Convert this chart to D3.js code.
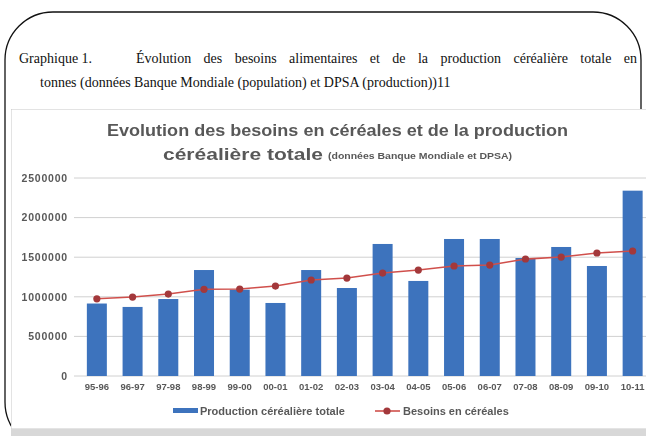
<!DOCTYPE html>
<html><head><meta charset="utf-8">
<script src="https://cdn.jsdelivr.net/npm/d3@7"></script>
<style>body{margin:0;background:#fff}svg{display:block}</style>
</head><body>
<svg id="c" width="646" height="436"></svg>
<script>
const categories = ["95-96","96-97","97-98","98-99","99-00","00-01","01-02","02-03","03-04","04-05","05-06","06-07","07-08","08-09","09-10","10-11"];
const production = [915000,872000,972000,1338000,1090000,922000,1338000,1111000,1667000,1200000,1730000,1730000,1490000,1629000,1389000,2340000];
const besoins = [975000,997000,1035000,1095000,1098000,1136000,1212000,1237000,1300000,1338000,1389000,1401000,1477000,1502000,1553000,1578000];
const yTicks = [0,500000,1000000,1500000,2000000,2500000];
const seriesNames = ["Production céréalière totale","Besoins en céréales"];

const svg = d3.select("#c");
svg.append("rect").attr("x",5).attr("y",12).attr("width",636).attr("height",438)
  .attr("rx",48).attr("ry",48).attr("fill","none").attr("stroke","#111").attr("stroke-width",1.3);

// caption (first line justified)
const cap = svg.append("g").attr("font-family","'Liberation Serif', 'Times New Roman', serif").attr("font-size",14).attr("fill","#111");
cap.append("text").attr("x",19).attr("y",63).text("Graphique 1.");
const l1 = cap.append("text").attr("x",136).attr("y",63).text("Évolution des besoins alimentaires et de la production céréalière totale en");
const nat = l1.node().getComputedTextLength();
const nSp = l1.text().split(" ").length - 1;
l1.attr("word-spacing", Math.max(0,(637 - 136 - nat)/nSp));
cap.append("text").attr("x",40).attr("y",87).text("tonnes (données Banque Mondiale (population) et DPSA (production))11");

const defs = svg.append("defs");
defs.append("filter").attr("id","bl").append("feGaussianBlur").attr("stdDeviation",0.55);
defs.append("clipPath").attr("id","cp").append("rect").attr("x",11).attr("y",109).attr("width",635).attr("height",327);
const chart = svg.append("g").attr("clip-path","url(#cp)");
chart.append("rect").attr("x",11).attr("y",109).attr("width",640).attr("height",320).attr("fill","#fff").attr("stroke","#c8c8c8");
chart.append("rect").attr("x",11).attr("y",429).attr("width",640).attr("height",8).attr("fill","#d8d8d8");
const g = chart.append("g").attr("filter","url(#bl)");

const tf = "'Liberation Sans', Arial, sans-serif";
g.append("text").attr("x",107).attr("y",136)
  .attr("font-family",tf).attr("font-weight","bold").attr("font-size",17).attr("fill","#595959")
  .attr("textLength",461).attr("lengthAdjust","spacingAndGlyphs")
  .text("Evolution des besoins en céréales et de la production");
g.append("text").attr("x",163).attr("y",160)
  .attr("font-family",tf).attr("font-weight","bold").attr("font-size",17).attr("fill","#595959")
  .attr("textLength",160).attr("lengthAdjust","spacingAndGlyphs")
  .text("céréalière totale");
g.append("text").attr("x",328).attr("y",159)
  .attr("font-family",tf).attr("font-weight","bold").attr("font-size",9).attr("fill","#595959")
  .attr("textLength",184).attr("lengthAdjust","spacingAndGlyphs")
  .text("(données Banque Mondiale et DPSA)");

const x = d3.scaleBand().domain(categories).range([79,650.5]).paddingInner(0.44).paddingOuter(0.22);
const y = d3.scaleLinear().domain([0,2500000]).range([376,178]);

g.append("g").selectAll("line").data(yTicks).join("line")
  .attr("x1",74).attr("x2",650).attr("y1",d=>y(d)).attr("y2",d=>y(d))
  .attr("stroke","#d0d0d0").attr("stroke-width",1);

const ya = g.append("g").attr("transform","translate(70,0)")
  .call(d3.axisLeft(y).tickValues(yTicks).tickSize(0).tickPadding(2).tickFormat(d3.format("d")));
ya.select(".domain").remove();
ya.selectAll("text").attr("font-family",tf).attr("font-size",10.5).attr("font-weight","bold")
  .attr("letter-spacing","0.8px").attr("fill","#595959");

g.append("g").selectAll("rect").data(production).join("rect")
  .attr("x",(d,i)=>x(categories[i])).attr("width",x.bandwidth())
  .attr("y",d=>y(d)).attr("height",d=>y(0)-y(d)).attr("fill","#3d73bd");

const cx = i => x(categories[i]) + x.bandwidth()/2;
g.append("path").datum(besoins)
  .attr("d",d3.line().x((d,i)=>cx(i)).y(d=>y(d)))
  .attr("fill","none").attr("stroke","#d0504c").attr("stroke-width",1.6);
g.append("g").selectAll("circle").data(besoins).join("circle")
  .attr("cx",(d,i)=>cx(i)).attr("cy",d=>y(d)).attr("r",3.6).attr("fill","#a3393a");

const xa = g.append("g").attr("transform","translate(0,380)")
  .call(d3.axisBottom(x).tickSize(0).tickPadding(3));
xa.select(".domain").remove();
xa.selectAll("text").attr("font-family",tf).attr("font-size",9.5).attr("font-weight","bold").attr("fill","#595959");

const lg = g.append("g").attr("font-family",tf).attr("font-size",11).attr("font-weight","bold").attr("fill","#595959");
lg.append("rect").attr("x",173).attr("y",408).attr("width",25).attr("height",5).attr("fill","#3d73bd");
lg.append("text").attr("x",200).attr("y",414.5).text(seriesNames[0]);
lg.append("line").attr("x1",375).attr("x2",400).attr("y1",411).attr("y2",411).attr("stroke","#d0504c").attr("stroke-width",1.6);
lg.append("circle").attr("cx",387).attr("cy",411).attr("r",3.6).attr("fill","#a3393a");
lg.append("text").attr("x",403).attr("y",414.5).text(seriesNames[1]);
</script>
</body></html>
